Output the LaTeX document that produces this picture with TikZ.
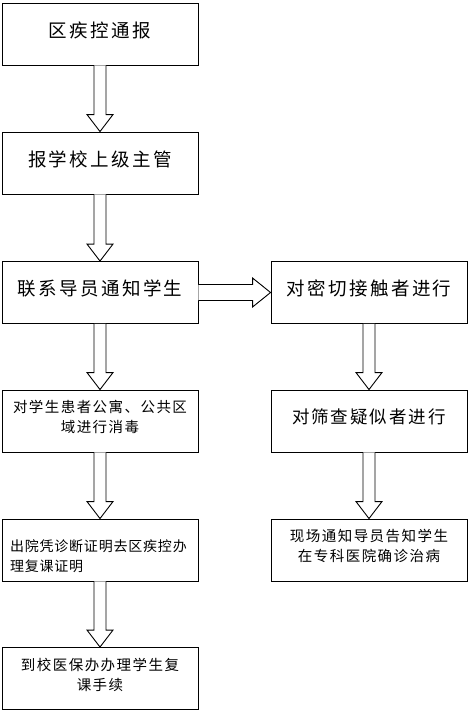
\documentclass[tikz,border=0pt]{standalone}
\usepackage{fontspec}
\setmainfont{Noto Sans CJK SC}
\usetikzlibrary{calc}
\newcommand\bigtxt{\fontsize{18.5}{22}\selectfont\addfontfeature{LetterSpace=13}}
\newcommand\midtxt{\fontsize{17.5}{22}\selectfont\addfontfeature{LetterSpace=11.4}}
\newcommand\smalltxt{\fontsize{14.5}{20}\selectfont\addfontfeature{LetterSpace=10}}
\newcommand\tinytxt{\fontsize{14}{20}\selectfont\addfontfeature{LetterSpace=5.7}}
\begin{document}
\begin{tikzpicture}[x=1pt,y=-1pt,
  box/.style={draw=black,line width=0.9pt,minimum width=196pt,minimum height=62pt,inner sep=0pt,text depth=9pt},
  blockarrow/.style={draw=black,line width=0.9pt,fill=white}]
\useasboundingbox (0,0) rectangle (471,713);
\node[box,font=\bigtxt] (b1) at (100,34) {区疾控通报};
\node[box,font=\bigtxt] (b2) at (100,163) {报学校上级主管};
\node[box,font=\bigtxt] (b3) at (100,292.5) {联系导员通知学生};
\node[box,font=\smalltxt,align=center] (b4) at (100,421) {对学生患者公寓、公共区\\域进行消毒};
\node[box,font=\tinytxt,align=left,text width=180pt] (b5) at (100,550) {出院凭诊断证明去区疾控办\\理复课证明};
\node[box,font=\smalltxt,align=center] (b6) at (100,678.5) {到校医保办办理学生复\\课手续};
\node[box,font=\bigtxt] (r1) at (369,292.5) {对密切接触者进行};
\node[box,font=\midtxt] (r2) at (369,421) {对筛查疑似者进行};
\node[box,font=\smalltxt,align=center] (r3) at (369,550) {现场通知导员告知学生\\在专科医院确诊治病};
\newcommand\varrow[2]{%
  \draw[blockarrow] ($(#1.south)+(-6,0)$) -- ($(#2.north)+(-6,-17)$) -- ($(#2.north)+(-13,-17)$)
    -- (#2.north) -- ($(#2.north)+(13,-17)$) -- ($(#2.north)+(6,-17)$) -- ($(#1.south)+(6,0)$);}
\varrow{b1}{b2}
\varrow{b2}{b3}
\varrow{b3}{b4}
\varrow{b4}{b5}
\varrow{b5}{b6}
\varrow{r1}{r2}
\varrow{r2}{r3}
\draw[blockarrow] ($(b3.east)+(0,-8)$) -- ($(r1.west)+(-18,-8)$) -- ($(r1.west)+(-18,-14.5)$)
  -- (r1.west) -- ($(r1.west)+(-18,14.5)$) -- ($(r1.west)+(-18,8)$) -- ($(b3.east)+(0,8)$);
\end{tikzpicture}
\end{document}
